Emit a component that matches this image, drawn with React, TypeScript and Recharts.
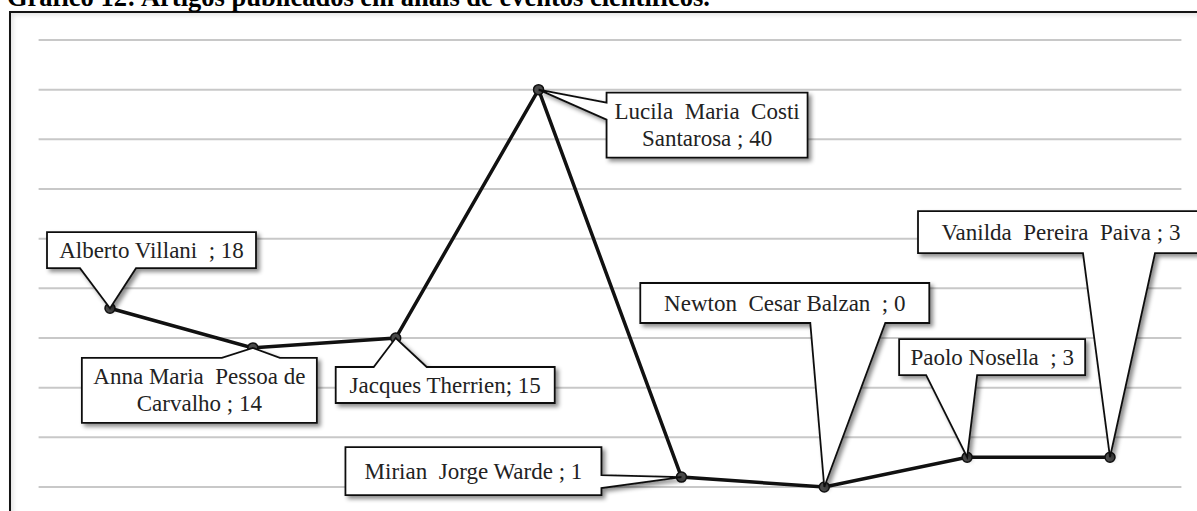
import React from 'react';
import { LineChart, Line, XAxis, YAxis, CartesianGrid, LabelList } from 'recharts';

const names = [
  'Alberto Villani',
  'Anna Maria Pessoa de Carvalho',
  'Jacques Therrien',
  'Lucila Maria Costi Santarosa',
  'Mirian Jorge Warde',
  'Newton Cesar Balzan',
  'Paolo Nosella',
  'Vanilda Pereira Paiva',
];
const values = [18, 14, 15, 40, 1, 0, 3, 3];
const yTicks = [0, 5, 10, 15, 20, 25, 30, 35, 40, 45];
const calloutLines = [
  ['Alberto Villani  ; 18'],
  ['Anna Maria  Pessoa de', 'Carvalho ; 14'],
  ['Jacques Therrien; 15'],
  ['Lucila  Maria  Costi', 'Santarosa ; 40'],
  ['Mirian  Jorge Warde ; 1'],
  ['Newton  Cesar Balzan  ; 0'],
  ['Paolo Nosella  ; 3'],
  ['Vanilda  Pereira  Paiva ; 3'],
];

// callout box placement relative to its point: [dx, dy, w, h], pointer side + base along that edge
const callouts = [
  { box: [-63, -76, 209, 36], side: 'bottom', base: [-30, 26] },
  { box: [-171, 10, 235, 65], side: 'top', base: [-31, 27] },
  { box: [-60, 29, 219, 36], side: 'top', base: [-22, 31] },
  { box: [68, 3, 201, 65], side: 'left', base: [13, 30] },
  { box: [-336, -30, 256, 48], side: 'right', base: [-2, 11] },
  { box: [-184, -204, 289, 40], side: 'bottom', base: [-14, 61] },
  { box: [-68, -118, 186, 36], side: 'bottom', base: [-41, 10] },
  { box: [-192, -246, 286, 42], side: 'bottom', base: [-27, 45] },
];

const data = names.map((name, i) => ({ name, value: values[i] }));

const FONT = '"Liberation Serif", "Times New Roman", serif';

function calloutPath(c: { box: number[]; side: string; base: number[] }) {
  const [bx, by, w, h] = c.box;
  const [a, b] = c.base;
  const r = bx + w;
  const btm = by + h;
  const p: string[] = [`M${bx},${by}`];
  if (c.side === 'top') p.push(`L${a},${by}`, 'L0,0', `L${b},${by}`);
  p.push(`L${r},${by}`);
  if (c.side === 'right') p.push(`L${r},${a}`, 'L0,0', `L${r},${b}`);
  p.push(`L${r},${btm}`);
  if (c.side === 'bottom') p.push(`L${b},${btm}`, 'L0,0', `L${a},${btm}`);
  p.push(`L${bx},${btm}`);
  if (c.side === 'left') p.push(`L${bx},${b}`, 'L0,0', `L${bx},${a}`);
  p.push('Z');
  return p.join(' ');
}

const renderCallout = (props: any) => {
  const index: number = props.index;
  const x: number = props.x ?? props.viewBox?.x;
  const y: number = props.y ?? props.viewBox?.y;
  const c = callouts[index];
  if (!c || x == null || y == null) return null;
  const [bx, by, w, h] = c.box;
  const lines = calloutLines[index];
  const cx = bx + w / 2;
  const cy = by + h / 2;
  return (
    <g transform={`translate(${x},${y})`}>
      {index === 0 && (
        <defs>
          <filter id="callShadow" x="-20%" y="-20%" width="150%" height="160%">
            <feDropShadow dx="3" dy="3" stdDeviation="2.2" floodColor="#000" floodOpacity="0.45" />
          </filter>
        </defs>
      )}
      <path d={calloutPath(c)} fill="#fff" stroke="#111" strokeWidth={1.8} filter="url(#callShadow)" />
      {lines.map((t, k) => (
        <text
          key={k}
          x={cx}
          y={cy + (k - (lines.length - 1) / 2) * 27}
          textAnchor="middle"
          dominantBaseline="central"
          fontFamily={FONT}
          fontSize={23}
          fill="#222"
          style={{ whiteSpace: 'pre' }}
        >
          {t}
        </text>
      ))}
    </g>
  );
};

export default function App() {
  return (
    <div style={{ position: 'absolute', left: 0, top: 0, width: 1197, height: 511, overflow: 'hidden', background: '#fff' }}>
      <div
        style={{
          position: 'absolute',
          left: 9,
          top: 11,
          width: 1300,
          height: 600,
          border: '2.5px solid #141414',
          boxShadow: 'inset 2px 2px 5px rgba(0,0,0,0.12), 2px 2px 3px rgba(0,0,0,0.35)',
        }}
      />
      <div
        style={{
          position: 'absolute',
          left: 7,
          top: -16,
          fontFamily: FONT,
          fontWeight: 'bold',
          fontSize: 26.5,
          lineHeight: '26.5px',
          color: '#000',
          whiteSpace: 'nowrap',
        }}
      >
        Gráfico 12: Artigos publicados em anais de eventos científicos.
      </div>
      <div style={{ position: 'absolute', left: 0, top: 0 }}>
        <LineChart width={1197} height={511} data={data} margin={{ top: 40, right: 15.6, bottom: 24, left: 38.6 }}>
          <CartesianGrid vertical={false} stroke="#c8c8c8" strokeWidth={2} />
          <XAxis dataKey="name" hide padding={{ left: 71.4, right: 71.4 }} />
          <YAxis hide domain={[0, 45]} ticks={yTicks} />
          <Line
            dataKey="value"
            stroke="#111"
            strokeWidth={3.5}
            dot={{ r: 5, fill: '#4a4a4a', stroke: '#111', strokeWidth: 1.5 }}
            activeDot={false}
            isAnimationActive={false}
          >
            <LabelList dataKey="value" content={renderCallout} />
          </Line>
        </LineChart>
      </div>
    </div>
  );
}
